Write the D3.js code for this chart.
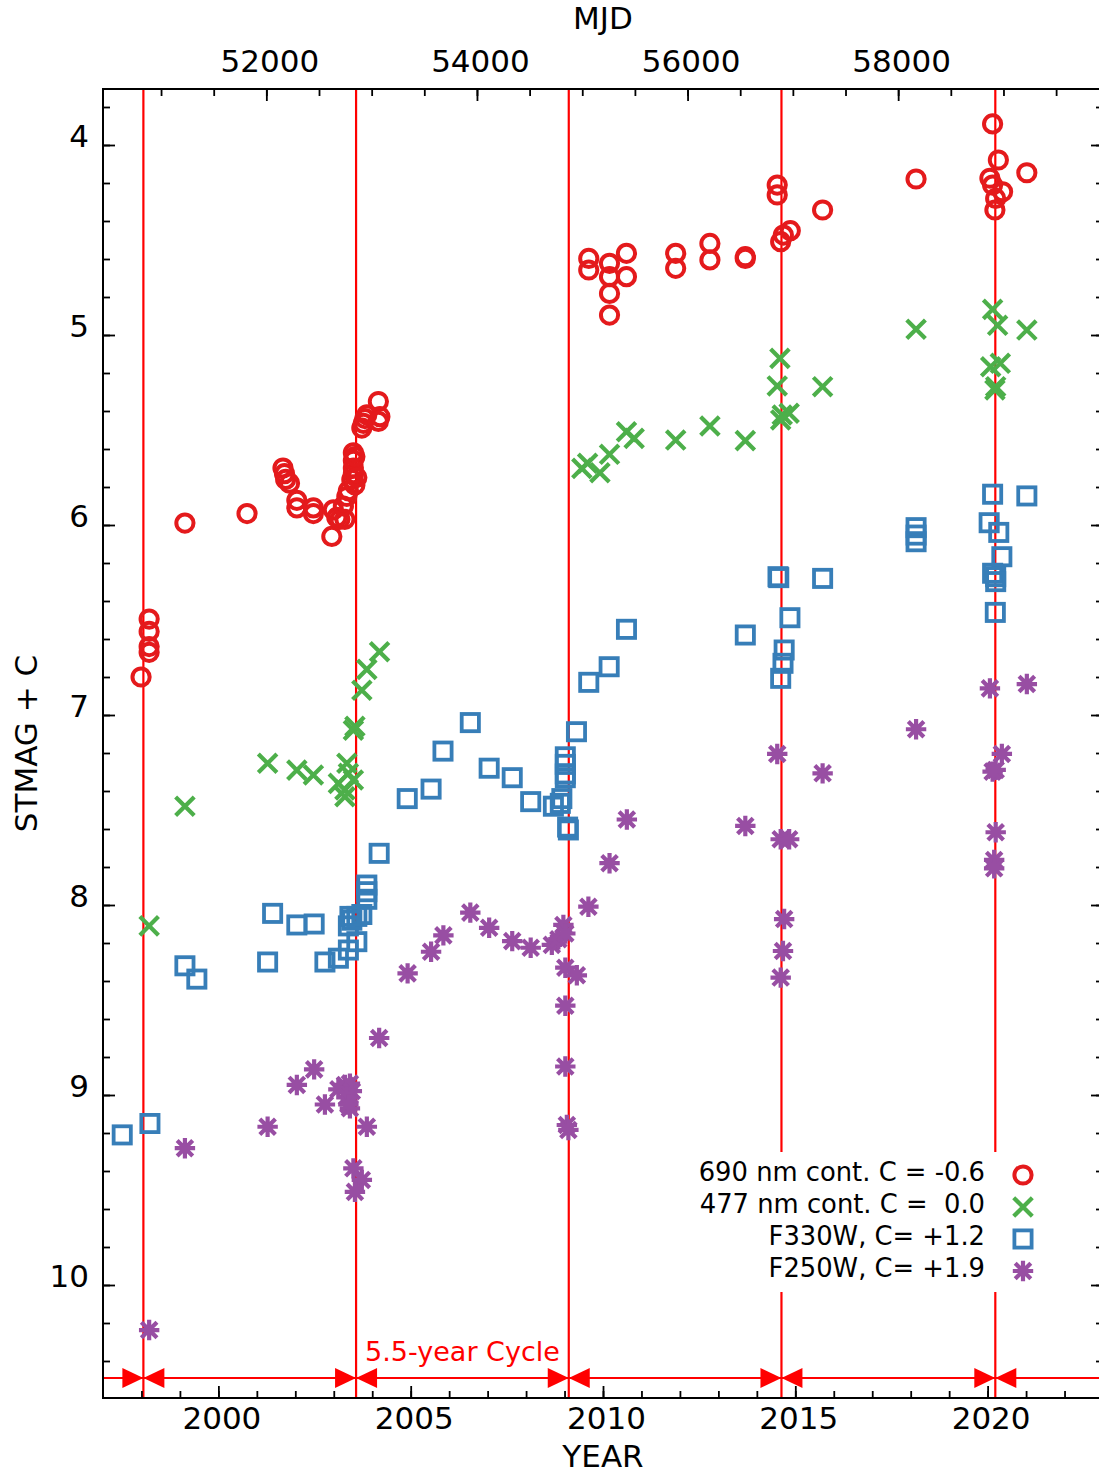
<!DOCTYPE html>
<html><head><meta charset="utf-8">
<script src="https://cdn.jsdelivr.net/npm/d3@7"></script>
<style>
html,body{margin:0;padding:0;background:#fff;}
svg text{font-family:"DejaVu Sans",Verdana,sans-serif;}
</style></head>
<body><svg id="c" width="1099" height="1476"></svg>
<script>
// ---------- DATA (year, STMAG + C) ----------
const red690 = [
 [1997.99,6.80],[1998.20,6.495],[1998.20,6.56],[1998.20,6.64],[1998.20,6.67],
 [1999.13,5.99],[2000.745,5.94],
 [2001.68,5.70],[2001.72,5.73],[2001.75,5.76],[2001.85,5.78],
 [2002.04,5.87],[2002.04,5.91],[2002.47,5.91],[2002.47,5.94],
 [2002.95,6.06],[2002.99,5.92],[2003.08,5.96],[2003.16,5.97],[2003.29,5.97],
 [2003.25,5.90],[2003.34,5.85],[2003.38,5.82],[2003.47,5.76],[2003.51,5.73],
 [2003.51,5.70],[2003.51,5.66],[2003.51,5.62],[2003.55,5.64],[2003.60,5.75],[2003.55,5.79],
 [2003.73,5.49],[2003.77,5.465],[2003.81,5.44],[2003.86,5.42],
 [2004.16,5.35],[2004.20,5.43],[2004.16,5.455],
 [2009.63,4.597],[2009.63,4.658],
 [2010.17,4.623],[2010.17,4.693],[2010.17,4.781],[2010.17,4.895],
 [2010.61,4.570],[2010.61,4.693],
 [2011.89,4.570],[2011.89,4.649],
 [2012.78,4.518],[2012.78,4.605],
 [2013.70,4.588],[2013.70,4.597],
 [2014.53,4.211],[2014.53,4.263],
 [2014.62,4.509],[2014.69,4.474],[2014.87,4.451],
 [2015.71,4.342],[2018.14,4.179],
 [2020.13,3.889],[2020.28,4.079],[2020.06,4.175],[2020.13,4.211],[2020.39,4.246],
 [2020.21,4.281],[2020.19,4.342],[2021.02,4.146]
];
const green477 = [
 [1998.20,8.11],[1999.13,7.48],
 [2001.28,7.254],[2002.04,7.29],[2002.47,7.316],
 [2003.12,7.36],[2003.29,7.395],[2003.38,7.307],[2003.34,7.254],[2003.51,7.342],[2003.29,7.43],
 [2003.51,7.08],[2003.55,7.06],[2003.73,6.87],[2003.86,6.76],[2004.19,6.667],
 [2009.45,5.702],[2009.60,5.675],[2009.92,5.725],[2010.17,5.628],
 [2010.61,5.509],[2010.81,5.544],[2011.89,5.553],[2012.78,5.479],[2013.70,5.556],
 [2014.60,5.123],[2014.53,5.268],[2014.66,5.421],[2014.84,5.412],[2014.62,5.447],
 [2015.71,5.272],[2018.14,4.970],
 [2020.13,4.865],[2020.26,4.949],[2021.02,4.974],
 [2020.08,5.167],[2020.33,5.149],[2020.21,5.272],[2020.19,5.289]
];
const blueF330W = [
 [1997.50,9.21],[1998.22,9.15],[1999.13,8.32],[1999.44,8.39],
 [2001.41,8.044],[2001.28,8.30],[2002.04,8.105],[2002.49,8.10],
 [2002.77,8.30],[2003.12,8.28],[2003.38,8.237],[2003.60,8.193],
 [2003.38,8.11],[2003.47,8.08],[2003.60,8.06],[2003.73,8.05],[2003.42,8.06],
 [2003.86,7.97],[2003.86,7.93],[2003.86,7.895],[2004.18,7.728],
 [2004.91,7.44],[2005.53,7.39],[2005.84,7.19],[2006.55,7.04],[2007.04,7.28],
 [2007.64,7.33],[2008.12,7.456],[2008.71,7.48],[2008.89,7.465],[2008.93,7.44],
 [2009.02,7.22],[2009.02,7.26],[2009.02,7.31],[2009.02,7.33],
 [2009.08,7.59],[2009.10,7.605],
 [2009.31,7.088],[2009.63,6.828],[2010.16,6.746],[2010.61,6.549],
 [2013.70,6.579],[2014.55,6.272],[2014.57,6.277],[2015.71,6.281],
 [2014.86,6.488],[2014.71,6.658],[2014.68,6.728],[2014.62,6.807],
 [2018.14,6.014],[2018.14,6.053],[2018.14,6.088],
 [2020.13,5.838],[2021.02,5.847],[2020.04,5.988],[2020.29,6.039],[2020.37,6.167],
 [2020.13,6.254],[2020.21,6.272],[2020.21,6.298],[2020.20,6.46]
];
const purpleF250W = [
 [1998.20,10.237],[1999.13,9.28],
 [2001.28,9.167],[2002.04,8.947],[2002.49,8.865],[2002.77,9.05],
 [2003.12,8.97],[2003.29,8.947],[2003.42,8.94],[2003.47,8.98],[2003.34,9.01],
 [2003.42,9.07],[2003.38,9.05],[2003.86,9.167],
 [2003.51,9.386],[2003.73,9.447],[2003.55,9.51],
 [2004.18,8.70],[2004.92,8.36],[2005.53,8.246],[2005.85,8.16],
 [2006.55,8.04],[2007.04,8.12],[2007.64,8.19],[2008.12,8.225],
 [2008.67,8.21],[2008.84,8.18],[2008.97,8.105],[2009.02,8.15],
 [2009.02,8.33],[2009.32,8.37],[2009.62,8.009],[2010.17,7.78],[2010.62,7.55],
 [2009.02,8.53],[2009.02,8.85],[2009.06,9.158],[2009.10,9.184],
 [2013.70,7.584],[2014.53,7.205],[2015.71,7.307],[2014.62,7.654],[2014.84,7.654],
 [2014.71,8.074],[2014.68,8.242],[2014.62,8.382],
 [2018.14,7.075],[2020.06,6.86],[2021.02,6.837],
 [2020.37,7.205],[2020.21,7.289],[2020.13,7.298],[2020.21,7.617],
 [2020.17,7.763],[2020.17,7.807]
];
const cycleYears = [1998.05, 2003.58, 2009.11, 2014.64, 2020.2];
const yearTicks = [2000, 2005, 2010, 2015, 2020];
const mjdTicks = [52000, 54000, 56000, 58000];
const magTicks = [4, 5, 6, 7, 8, 9, 10];
const legendLabels = ["690 nm cont. C = -0.6", "477 nm cont. C =  0.0", "F330W, C= +1.2", "F250W, C= +1.9"];
const cycleLabel = "5.5-year Cycle";

// ---------- LAYOUT ----------
const L = 103, R = 1103, T = 89, B = 1398;
const x = d3.scaleLinear().domain([1997, 2023]).range([L, R]);
const toMJD = yr => 51544.5 + (yr - 2000) * 365.25;
const xm = d3.scaleLinear().domain([toMJD(1997), toMJD(2023)]).range([L, R]);
const y = d3.scaleLinear().domain([4, 10]).range([145, 1285]);

const svg = d3.select("#c");
const FS = 31;

// cycle lines
svg.append("g").selectAll("line").data(cycleYears).join("line")
  .attr("x1", d => x(d)).attr("x2", d => x(d)).attr("y1", T).attr("y2", B)
  .attr("stroke", "#ff0000").attr("stroke-width", 2.2);

// arrow line
const arrowY = 1378;
svg.append("line").attr("x1", L).attr("x2", R).attr("y1", arrowY).attr("y2", arrowY)
  .attr("stroke", "#ff0000").attr("stroke-width", 2.2);
const tri = svg.append("g").attr("fill", "#ff0000");
cycleYears.forEach(c => {
  const cx = x(c), w = 21, h = 10;
  tri.append("path").attr("d", `M${cx},${arrowY} L${cx - w},${arrowY - h} L${cx - w},${arrowY + h} Z`);
  tri.append("path").attr("d", `M${cx},${arrowY} L${cx + w},${arrowY - h} L${cx + w},${arrowY + h} Z`);
});
svg.append("text").attr("x", x(cycleYears[1]) + 9).attr("y", 1361)
  .attr("fill", "#ff0000").attr("font-size", 27).text(cycleLabel);

// legend background (hides cycle lines behind legend)
svg.append("rect").attr("x", 690).attr("y", 1152).attr("width", 355).attr("height", 140).attr("fill", "#fff");

// axes
function styleAxis(g) {
  g.select(".domain").remove();
  g.selectAll(".tick line").attr("stroke", "#000").attr("stroke-width", 1.8);
  g.selectAll("text").attr("font-size", FS).attr("fill", "#000").attr("font-family", '"DejaVu Sans",Verdana,sans-serif');
}
// bottom
svg.append("g").attr("transform", `translate(0,${B})`)
  .call(d3.axisBottom(x).tickValues(d3.range(1998, 2023)).tickSize(-7).tickFormat(""))
  .call(styleAxis);
svg.append("g").attr("transform", `translate(0,${B})`)
  .call(d3.axisBottom(x).tickValues(yearTicks).tickSize(-12).tickPadding(9).tickFormat(d3.format("d")))
  .call(styleAxis)
  .call(g => g.selectAll("text").attr("dx", 3));
// top
svg.append("g").attr("transform", `translate(0,${T})`)
  .call(d3.axisTop(xm).tickValues(d3.range(51000, 60001, 500).filter(v => v > xm.domain()[0] && v < xm.domain()[1])).tickSize(-7).tickFormat(""))
  .call(styleAxis);
svg.append("g").attr("transform", `translate(0,${T})`)
  .call(d3.axisTop(xm).tickValues(mjdTicks).tickSize(-12).tickPadding(17).tickFormat(d3.format("d")))
  .call(styleAxis)
  .call(g => g.selectAll("text").attr("dx", 3));
// left
const minorMag = d3.range(38, 106, 2).map(v => v / 10);
svg.append("g").attr("transform", `translate(${L},0)`)
  .call(d3.axisLeft(y).tickValues(minorMag).tickSize(-7).tickFormat(""))
  .call(styleAxis);
svg.append("g").attr("transform", `translate(${L},0)`)
  .call(d3.axisLeft(y).tickValues(magTicks).tickSize(-12).tickPadding(14).tickFormat(d3.format("d")))
  .call(styleAxis)
  .call(g => g.selectAll("text").attr("dy", "0.06em"));
// right
svg.append("g").attr("transform", `translate(${R},0)`)
  .call(d3.axisRight(y).tickValues(minorMag).tickSize(-7).tickFormat(""))
  .call(styleAxis);
svg.append("g").attr("transform", `translate(${R},0)`)
  .call(d3.axisRight(y).tickValues(magTicks).tickSize(-12).tickFormat(""))
  .call(styleAxis);

// frame
svg.append("rect").attr("x", L).attr("y", T).attr("width", R - L).attr("height", B - T)
  .attr("fill", "none").attr("stroke", "#000").attr("stroke-width", 2);

// titles
svg.append("text").attr("x", (L + R) / 2).attr("y", 29).attr("text-anchor", "middle").attr("font-size", FS).text("MJD");
svg.append("text").attr("x", (L + R) / 2).attr("y", 1467).attr("text-anchor", "middle").attr("font-size", FS).text("YEAR");
svg.append("text").attr("transform", `translate(37,${(T + B) / 2}) rotate(-90)`).attr("text-anchor", "middle").attr("font-size", FS).text("STMAG + C");

// markers
const COL = {red: "#e41a1c", green: "#4daf4a", blue: "#377eb8", purple: "#984ea3"};
function circ(g, cx, cy) { g.append("circle").attr("cx", cx).attr("cy", cy).attr("r", 8.6).attr("fill", "none").attr("stroke", COL.red).attr("stroke-width", 4); }
function cross(g, cx, cy) { const s = 9.3; g.append("path").attr("d", `M${cx - s},${cy - s}L${cx + s},${cy + s}M${cx - s},${cy + s}L${cx + s},${cy - s}`).attr("stroke", COL.green).attr("stroke-width", 4.2).attr("fill", "none"); }
function sq(g, cx, cy) { const s = 8.6; g.append("rect").attr("x", cx - s).attr("y", cy - s).attr("width", 2 * s).attr("height", 2 * s).attr("fill", "none").attr("stroke", COL.blue).attr("stroke-width", 3.8); }
function star(g, cx, cy) { const s = 10.2, d = 7.8; g.append("path").attr("d", `M${cx},${cy - s}L${cx},${cy + s}M${cx - s},${cy}L${cx + s},${cy}M${cx - d},${cy - d}L${cx + d},${cy + d}M${cx - d},${cy + d}L${cx + d},${cy - d}`).attr("stroke", COL.purple).attr("stroke-width", 4.2).attr("fill", "none"); }

const gR = svg.append("g"), gG = svg.append("g"), gB = svg.append("g"), gP = svg.append("g");
red690.forEach(d => circ(gR, x(d[0]), y(d[1])));
green477.forEach(d => cross(gG, x(d[0]), y(d[1])));
blueF330W.forEach(d => sq(gB, x(d[0]), y(d[1])));
purpleF250W.forEach(d => star(gP, x(d[0]), y(d[1])));

// legend
const legY = [1172, 1204, 1236, 1268];
const legFns = [circ, cross, sq, star];
const gL = svg.append("g");
legendLabels.forEach((t, i) => {
  gL.append("text").attr("x", 985).attr("y", legY[i] + 9).attr("text-anchor", "end")
    .attr("font-size", 25.8).style("white-space", "pre").text(t);
  legFns[i](gL, 1023, legY[i] + 3);
});
</script></body></html>
